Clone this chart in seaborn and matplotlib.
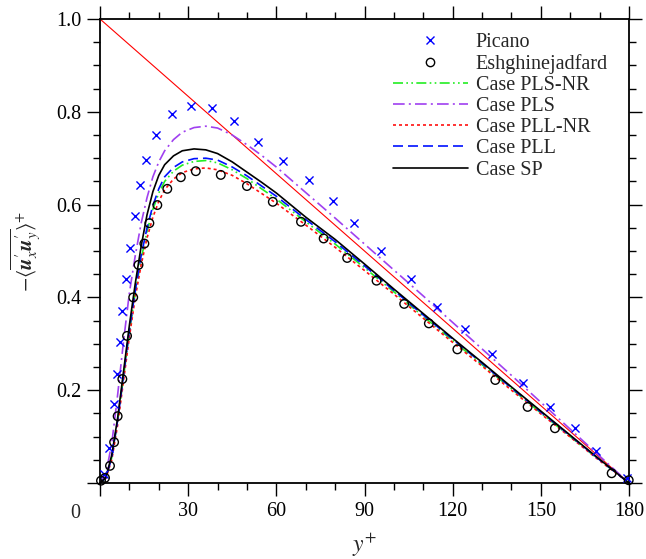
import numpy as np
import pandas as pd
import matplotlib
matplotlib.use("Agg")
import matplotlib.pyplot as plt
import seaborn as sns
from matplotlib.ticker import MultipleLocator
from matplotlib.lines import Line2D

# ---------------- data ----------------
picano_x = [1.5, 3.1, 4.8, 5.8, 6.7, 7.6, 8.7, 10.2, 11.8, 13.5, 15.8, 19.1, 24.4,
            30.8, 38.0, 45.7, 53.7, 62.4, 71.1, 79.4, 86.5, 95.5, 105.7, 114.6,
            124.3, 133.5, 144.1, 153.0, 161.5, 168.8, 179.3]
picano_y = [0.019, 0.075, 0.170, 0.235, 0.303, 0.371, 0.439, 0.507, 0.575, 0.642,
            0.696, 0.751, 0.795, 0.8125, 0.8075, 0.781, 0.734, 0.693, 0.652, 0.608,
            0.560, 0.500, 0.440, 0.379, 0.332, 0.278, 0.216, 0.164, 0.119, 0.069, 0.010]

eshg_x = [0.34, 1.7, 3.4, 4.8, 6.0, 7.6, 9.2, 11.3, 13.1, 15.1, 16.8, 19.5, 22.9,
          27.5, 32.6, 41.1, 50.0, 58.8, 68.4, 76.1, 84.1, 94.1, 103.5, 111.9,
          121.6, 134.5, 145.5, 154.8, 174.1, 179.9]
eshg_y = [0.005, 0.011, 0.037, 0.088, 0.144, 0.224, 0.317, 0.400, 0.470, 0.516,
          0.560, 0.599, 0.634, 0.659, 0.672, 0.664, 0.640, 0.606, 0.563, 0.527,
          0.485, 0.436, 0.386, 0.344, 0.288, 0.222, 0.164, 0.118, 0.021, 0.006]

case_x = [0, 2, 4, 6, 8, 10, 12, 14, 16, 18, 20, 22, 25, 28, 32, 36, 40, 45, 50,
          55, 60, 70, 80, 90, 100, 110, 120, 130, 140, 150, 160, 170, 180]
case_pls_nr = [0, 0.011, 0.055, 0.133, 0.228, 0.325, 0.410, 0.483, 0.542, 0.590,
               0.625, 0.650, 0.672, 0.685, 0.693, 0.695, 0.690, 0.675, 0.656, 0.634,
               0.612, 0.563, 0.515, 0.464, 0.412, 0.359, 0.307, 0.255, 0.203, 0.151,
               0.100, 0.049, 0]
case_pls = [0, 0.020, 0.085, 0.190, 0.305, 0.410, 0.490, 0.560, 0.615, 0.660,
            0.692, 0.716, 0.740, 0.756, 0.766, 0.769, 0.765, 0.750, 0.729, 0.706,
            0.681, 0.626, 0.571, 0.515, 0.459, 0.403, 0.346, 0.289, 0.232, 0.174,
            0.116, 0.058, 0]
case_pll_nr = [0, 0.010, 0.050, 0.125, 0.220, 0.315, 0.400, 0.470, 0.528, 0.573,
               0.607, 0.632, 0.655, 0.669, 0.677, 0.679, 0.675, 0.663, 0.645, 0.624,
               0.603, 0.556, 0.508, 0.458, 0.407, 0.355, 0.303, 0.252, 0.200, 0.149,
               0.099, 0.048, 0]
case_pll = [0, 0.011, 0.055, 0.135, 0.232, 0.330, 0.415, 0.490, 0.550, 0.598,
            0.634, 0.660, 0.680, 0.692, 0.699, 0.700, 0.696, 0.681, 0.662, 0.640,
            0.618, 0.568, 0.520, 0.468, 0.415, 0.362, 0.310, 0.258, 0.205, 0.153,
            0.102, 0.050, 0]
case_sp = [0, 0.012, 0.060, 0.140, 0.240, 0.340, 0.430, 0.510, 0.578, 0.628,
           0.663, 0.686, 0.705, 0.716, 0.720, 0.718, 0.710, 0.692, 0.670, 0.648,
           0.625, 0.573, 0.525, 0.472, 0.418, 0.365, 0.312, 0.260, 0.207, 0.155,
           0.103, 0.051, 0]

total_x = [0, 180]
total_y = [1.0, 0.0]

xtick_vals = [0, 30, 60, 90, 120, 150, 180]
xtick_labels = ["", "30", "60", "90", "120", "150", "180"]
ytick_vals = [0.0, 0.2, 0.4, 0.6, 0.8, 1.0]
ytick_labels = ["", "0.2", "0.4", "0.6", "0.8", "1.0"]

# ---------------- style ----------------
sns.set_style("ticks")
plt.rcParams["font.family"] = ["Liberation Serif", "DejaVu Serif"]
plt.rcParams["mathtext.fontset"] = "stix"

fig = plt.figure(figsize=(6.46, 5.59), dpi=100)
ax = fig.add_axes([100 / 646, 76 / 559, 529 / 646, 464 / 559])

lw = 1.2
sns.lineplot(x=total_x, y=total_y, color="red", linewidth=0.8, ax=ax, errorbar=None)

curves = [
    (case_pls_nr, "#22ee22", (0, (6, 2, 1, 2, 1, 2)), "Case PLS-NR"),
    (case_pls, "#a040f0", (0, (7, 2.5, 1.2, 2.5)), "Case PLS"),
    (case_pll_nr, "#ff1010", (0, (1.8, 1.8)), "Case PLL-NR"),
    (case_pll, "#0010ff", (0, (6, 3)), "Case PLL"),
    (case_sp, "black", "-", "Case SP"),
]
for ys, col, ls, lab in curves:
    sns.lineplot(x=case_x, y=ys, color=col, linewidth=lw, linestyle=ls,
                 ax=ax, errorbar=None, sort=False)

sns.scatterplot(x=picano_x, y=picano_y, marker="x", color="#0000ff", s=34,
                linewidth=1.0, ax=ax, clip_on=False, zorder=5)
sns.scatterplot(x=eshg_x, y=eshg_y, marker="o", facecolor="none", edgecolor="black",
                s=38, linewidth=1.0, ax=ax, clip_on=False, zorder=5)

ax.set_xlim(0, 180)
ax.set_ylim(0, 1.0)
ax.set_xticks(xtick_vals)
ax.set_xticklabels(xtick_labels)
ax.set_yticks(ytick_vals)
ax.set_yticklabels(ytick_labels)
ax.xaxis.set_minor_locator(MultipleLocator(10))
ax.yaxis.set_minor_locator(MultipleLocator(0.05))
ax.tick_params(which="both", direction="out", top=True, right=True,
               labeltop=False, labelright=False, width=1.0, colors="black",
               labelsize=14.5)
ax.tick_params(which="major", length=9.4, pad=4)
ax.tick_params(which="minor", length=5)
for sp_ in ax.spines.values():
    sp_.set_linewidth(1.3)
    sp_.set_color("black")

ax.annotate("0", xy=(0, 0), xycoords="data", xytext=(-25, -30),
            textcoords="offset pixels", ha="center", va="center", fontsize=14.5)

ax.set_xlabel(r"$y^{+}$", fontsize=17, labelpad=8)
ax.set_ylabel(r"$-\langle\overline{\mathbfit{u}^{\prime}_{x}\mathbfit{u}^{\prime}_{y}}\rangle^{+}$",
              fontsize=15, labelpad=9)

handles = [
    Line2D([], [], linestyle="none", marker="x", color="#0000ff", markersize=5.8, markeredgewidth=1.0),
    Line2D([], [], linestyle="none", marker="o", markerfacecolor="none", markeredgecolor="black",
           markersize=6.0, markeredgewidth=1.0),
]
labels = ["Picano", "Eshghinejadfard"]
for ys, col, ls, lab in curves:
    handles.append(Line2D([], [], color=col, linewidth=lw, linestyle=ls))
    labels.append(lab)

ax.legend(handles, labels, loc="upper left", bbox_to_anchor=((393 - 100) / 529, (483 - 33) / 464),
          frameon=False, fontsize=14.5, handlelength=3.7, handletextpad=0.4,
          labelspacing=0.1, borderpad=0, borderaxespad=0)

fig.savefig("out.png", dpi=100)
